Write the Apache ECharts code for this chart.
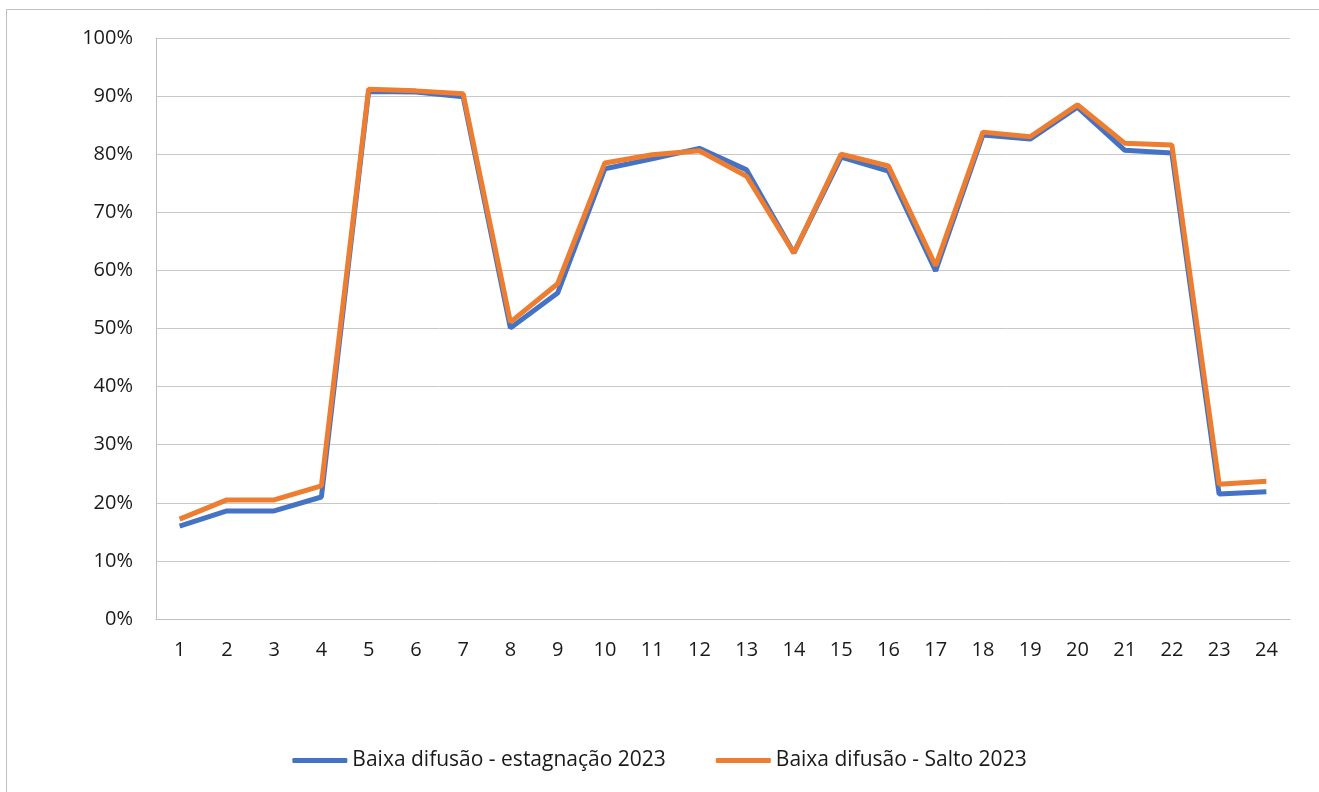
<!DOCTYPE html>
<html>
<head>
    <meta http-equiv="Content-Type" content="text/html; charset=utf-8" />
    <title>Baixa difusão 2023</title>
    <script src="https://cdn.jsdelivr.net/npm/echarts@6/dist/echarts.min.js"></script>
    <style>
        html, body { margin: 0; padding: 0; background: #fff; }
    </style>
</head>
<body>
    <div id="main" style="width: 1319px;height:792px;"></div>
    <script type="text/javascript">
    // dados
    var categorias = ['1','2','3','4','5','6','7','8','9','10','11','12',
                      '13','14','15','16','17','18','19','20','21','22','23','24'];
    var estagnacao = [16.0, 18.6, 18.6, 21.0, 90.8, 90.7, 89.9, 50.1, 56.1, 77.5, 79.2, 81.0,
                      77.3, 63.0, 79.5, 77.1, 59.9, 83.3, 82.6, 88.1, 80.7, 80.2, 21.5, 21.9];
    var salto = [17.2, 20.5, 20.5, 22.9, 91.2, 90.9, 90.4, 51.1, 57.7, 78.5, 79.9, 80.6,
                 76.2, 63.0, 80.0, 78.0, 60.8, 83.8, 83.0, 88.5, 81.9, 81.6, 23.2, 23.7];
    var nomes = ['Baixa difusão - estagnação 2023', 'Baixa difusão - Salto 2023'];

    var fonte = '"Open Sans", "Liberation Sans", sans-serif';
    var myChart = echarts.init(document.getElementById('main'));

    var option = {
        animation: false,
        backgroundColor: '#fff',
        textStyle: { fontFamily: fonte },
        graphic: [{
            type: 'rect',
            shape: { x: 6.5, y: 9.5, width: 1330, height: 800 },
            style: { fill: null, stroke: '#bfbfbf', lineWidth: 1 },
            silent: true
        }],
        legend: {
            bottom: 16,
            left: 'center',
            itemWidth: 55,
            itemHeight: 5,
            itemGap: 50,
            icon: 'roundRect',
            textStyle: { fontSize: 21, color: '#1a1a1a', fontFamily: fonte },
            data: nomes
        },
        grid: { left: 156, right: 29, top: 38, bottom: 173 },
        xAxis: {
            type: 'category',
            data: categorias,
            boundaryGap: true,
            axisLine: { lineStyle: { color: '#bfbfbf', width: 1 } },
            axisTick: { show: false },
            axisLabel: { fontSize: 20, color: '#1a1a1a', margin: 21 }
        },
        yAxis: {
            type: 'value',
            min: 0,
            max: 100,
            interval: 10,
            axisLine: { show: true, lineStyle: { color: '#bfbfbf', width: 1 } },
            axisTick: { show: false },
            axisLabel: { fontSize: 20, color: '#1a1a1a', margin: 23, formatter: '{value}%' },
            splitLine: { lineStyle: { color: '#c8c8c8', width: 1 } }
        },
        series: [
            {
                name: nomes[0],
                type: 'line',
                data: estagnacao,
                symbol: 'none',
                lineStyle: { color: '#4472C4', width: 5 },
                itemStyle: { color: '#4472C4' }
            },
            {
                name: nomes[1],
                type: 'line',
                data: salto,
                symbol: 'none',
                lineStyle: { color: '#ED7D31', width: 5 },
                itemStyle: { color: '#ED7D31' }
            }
        ]
    };

    myChart.setOption(option);
    </script>
</body>
</html>
